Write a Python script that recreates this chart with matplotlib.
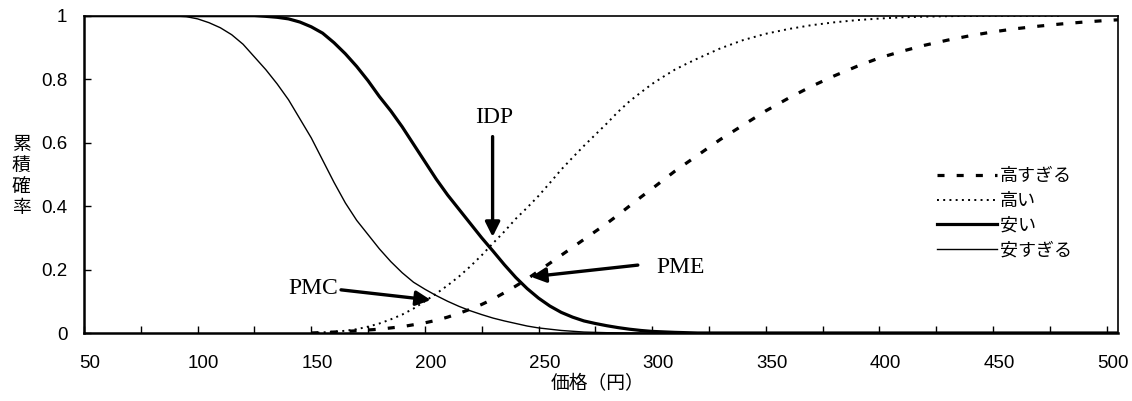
import numpy as np
import matplotlib.pyplot as plt
import matplotlib.transforms as mtransforms

plt.rcParams['font.family'] = ['Liberation Sans', 'Noto Sans CJK JP']

# 価格(円)ごとの累積確率
price_too_high = [150, 160, 170, 180, 190, 200, 205, 210, 215, 220, 225, 230, 235, 240, 245,
                  250, 255, 260, 265, 270, 275, 280, 285, 290, 295, 300, 310, 320, 330, 340,
                  350, 360, 370, 380, 390, 400, 410, 420, 430, 440, 450, 460, 470, 480, 490,
                  500, 505]
too_high = [0.0, 0.003, 0.007, 0.012, 0.02, 0.032, 0.04, 0.05, 0.062, 0.075, 0.09, 0.107, 0.127,
            0.148, 0.17, 0.195, 0.22, 0.245, 0.27, 0.295, 0.32, 0.345, 0.372, 0.40, 0.428, 0.455,
            0.51, 0.56, 0.61, 0.655, 0.70, 0.74, 0.777, 0.81, 0.84, 0.867, 0.888, 0.907, 0.923,
            0.937, 0.949, 0.959, 0.967, 0.974, 0.98, 0.985, 0.987]

price_high = [150, 155, 160, 165, 170, 175, 180, 185, 190, 195, 200, 205, 210, 215, 220, 225,
              230, 235, 240, 245, 250, 255, 260, 265, 270, 275, 280, 285, 290, 295, 300, 305,
              310, 315, 320, 330, 340, 350, 360, 370, 380, 390, 400, 410, 420, 435, 450, 480]
high = [0.0, 0.002, 0.004, 0.007, 0.012, 0.02, 0.03, 0.043, 0.058, 0.077, 0.1, 0.124, 0.15,
        0.178, 0.21, 0.245, 0.283, 0.32, 0.36, 0.395, 0.432, 0.473, 0.515, 0.553, 0.59, 0.625,
        0.66, 0.697, 0.73, 0.758, 0.785, 0.808, 0.83, 0.848, 0.865, 0.897, 0.923, 0.943, 0.958,
        0.97, 0.979, 0.986, 0.991, 0.995, 0.997, 0.999, 1.0, 1.0]

price_cheap = [50, 125, 130, 135, 140, 145, 150, 155, 160, 165, 170, 175, 180, 185, 190, 195,
               200, 205, 210, 215, 220, 225, 230, 235, 240, 245, 250, 255, 260, 265, 270, 275,
               280, 285, 290, 295, 300, 310, 320, 505]
cheap = [1.0, 1.0, 0.998, 0.995, 0.99, 0.98, 0.965, 0.945, 0.915, 0.88, 0.84, 0.795, 0.745, 0.70,
         0.65, 0.595, 0.54, 0.485, 0.435, 0.39, 0.345, 0.30, 0.258, 0.215, 0.175, 0.14, 0.11,
         0.085, 0.065, 0.05, 0.038, 0.03, 0.023, 0.017, 0.012, 0.008, 0.005, 0.002, 0.0, 0.0]

price_too_cheap = [50, 85, 90, 95, 100, 105, 110, 115, 120, 125, 130, 135, 140, 145, 150, 155,
                   160, 165, 170, 175, 180, 185, 190, 195, 200, 205, 210, 215, 220, 225, 230,
                   235, 240, 245, 250, 260, 270, 280, 290, 505]
too_cheap = [1.0, 1.0, 0.999, 0.997, 0.99, 0.978, 0.962, 0.94, 0.91, 0.87, 0.83, 0.785, 0.735,
             0.675, 0.615, 0.545, 0.475, 0.41, 0.355, 0.31, 0.265, 0.225, 0.19, 0.16, 0.138,
             0.118, 0.1, 0.084, 0.07, 0.058, 0.047, 0.038, 0.03, 0.022, 0.016, 0.008, 0.003,
             0.001, 0.0, 0.0]

fig = plt.figure(figsize=(11.32, 4.01), dpi=100)
ax = fig.add_axes([84 / 1132, 1 - 333 / 401, 1034 / 1132, 317.3 / 401])

ax.plot(price_too_high, too_high, color='black', lw=2.3, dashes=(2.2, 3.8), label='高すぎる')
ax.plot(price_high, high, color='black', lw=1.4, dashes=(1.0, 2.2), label='高い')
ax.plot(price_cheap, cheap, color='black', lw=2.3, label='安い')
ax.plot(price_too_cheap, too_cheap, color='black', lw=1.0, label='安すぎる')

ax.set_xlim(50, 505)
ax.set_ylim(0, 1)
ax.set_xticks(np.arange(50, 501, 50))
ax.set_xticks(np.arange(75, 501, 50), minor=True)
ax.set_yticks([0, 0.2, 0.4, 0.6, 0.8, 1])
ax.set_yticklabels(['0', '0.2', '0.4', '0.6', '0.8', '1'])
ax.tick_params(axis='x', which='both', direction='in', length=5, width=1, pad=16, labelsize=13.5)
ax.tick_params(axis='y', direction='in', length=5, width=1, pad=12, labelsize=13.5)

# x軸ラベルを少し右へずらす
shift = mtransforms.ScaledTranslation(6 / 100, 0, fig.dpi_scale_trans)
for lab in ax.get_xticklabels():
    lab.set_transform(lab.get_transform() + shift)

for s in ['left', 'bottom']:
    ax.spines[s].set_linewidth(1.8)
for s in ['top', 'right']:
    ax.spines[s].set_linewidth(1.2)

jp = ['Noto Sans CJK JP', 'DejaVu Sans']
fig.text(21 / 1132, 1 - 176 / 401, '累\n積\n確\n率', family=jp, fontsize=13.5,
         ha='center', va='center', linespacing=1.0)
fig.text(598 / 1132, 1 - 384 / 401, '価格（円）', family=jp, fontsize=13.5,
         ha='center', va='center')

arrow = dict(arrowstyle='-|>', lw=2.4, color='black', mutation_scale=22, shrinkA=0, shrinkB=0)
ax.annotate('', xy=(229.8, 0.303), xytext=(229.8, 0.619), arrowprops=arrow)
ax.text(230.4, 0.678, 'IDP', family='Liberation Serif', fontsize=17, ha='center', va='center')
ax.annotate('', xy=(202.6, 0.104), xytext=(163.1, 0.136), arrowprops=arrow)
ax.text(150.7, 0.139, 'PMC', family='Liberation Serif', fontsize=17, ha='center', va='center')
ax.annotate('', xy=(246.7, 0.177), xytext=(293.7, 0.214), arrowprops=arrow)
ax.text(312.7, 0.205, 'PME', family='Liberation Serif', fontsize=17, ha='center', va='center')

leg = ax.legend(loc='upper left', bbox_to_anchor=((937 - 84) / 1034, (333 - 167) / 317.3),
                frameon=False, prop={'family': jp, 'size': 13}, handlelength=3.3,
                handletextpad=0.2, labelspacing=0.38, borderpad=0, borderaxespad=0)

fig.savefig('out.png', dpi=100)
